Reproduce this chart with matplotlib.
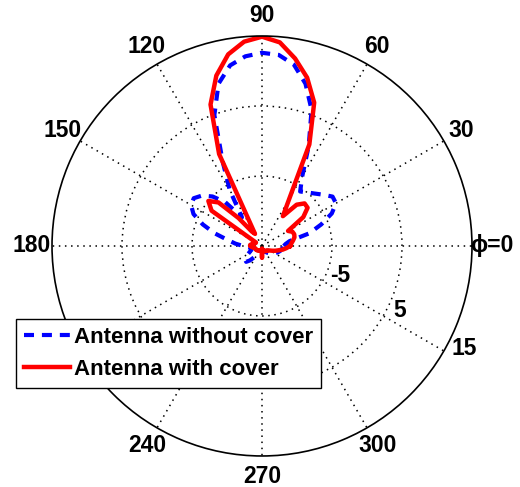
import numpy as np
import matplotlib
matplotlib.use('Agg')  # sem display
import matplotlib.pyplot as plt

plt.rcParams['font.family'] = ['Liberation Sans', 'DejaVu Sans']
plt.rcParams['font.weight'] = 'bold'

# Ângulos (graus) do diagrama de irradiação
angulos = np.arange(0, 360, 5)

# Ganho (dB) - antena sem radome
ganho_sem_cover = [
    -11.9, -11.6, -11.0, -8.0, -6.0, -4.0, -2.8, -2.7, -3.6, -4.4, -5.0, -5.5,
    -3.5, 0.8, 5.7, 9.0, 11.3, 12.4, 12.6, 12.2, 11.2, 9.0, 4.9, -1.7,
    -5.8, -10.0, -6.8, -5.0, -3.8, -3.1, -3.3, -4.2, -6.0, -8.0, -10.0, -11.2,
    -12.3, -13.0, -13.4, -13.5, -13.4, -13.1, -12.7, -12.2, -11.9, -11.8, -12.3, -13.0,
    -13.6, -14.0, -14.2, -14.3, -14.3, -14.3, -14.3, -14.3, -14.3, -14.2, -14.2, -14.1,
    -14.0, -13.9, -13.7, -13.5, -13.3, -13.1, -12.9, -12.7, -12.5, -12.3, -12.2, -12.0,
]

# Ganho (dB) - antena com radome
ganho_com_cover = [
    -11.0, -10.8, -10.5, -10.2, -10.1, -10.2, -10.7, -7.8, -6.5, -6.4, -7.3, -9.8,
    -7.2, 1.0, 6.8, 9.9, 12.2, 14.2, 14.9, 14.3, 12.8, 10.2, 6.5, -0.5,
    -13.0, -12.5, -9.8, -6.2, -5.0, -6.2, -14.0, -14.0, -13.9, -13.8, -13.5, -13.3,
    -13.3, -13.5, -13.7, -13.9, -14.0, -14.0, -14.0, -14.0, -14.1, -14.1, -14.2, -14.2,
    -14.2, -14.3, -14.3, -14.3, -14.4, -14.6, -13.3, -14.6, -14.4, -14.3, -14.3, -14.2,
    -14.2, -14.1, -14.1, -14.0, -14.0, -13.9, -13.7, -13.4, -13.0, -12.6, -12.0, -11.5,
]

# Rótulos da escala angular e radial
theta_ticks = [0, 30, 60, 90, 120, 150, 180, 240, 270, 300]
theta_rotulos = ['\u03d5=0', '30', '60', '90', '120', '150', '180', '240', '270', '300']
r_ticks = [-5, 5, 15]
r_rotulos = ['-5', '5', '15']


def fechar(vals):
    # repete o primeiro ponto para fechar a curva em 360°
    return np.append(vals, vals[0])


fig = plt.figure(figsize=(5.2, 4.87), dpi=100)
ax = fig.add_axes([0.1, 0.0637, 0.8077, 0.8624], projection='polar')

th = np.deg2rad(fechar(angulos))
l1, = ax.plot(th, fechar(ganho_sem_cover), color='blue', lw=3,
              linestyle=(0, (2.4, 1.9)), label='Antenna without cover')
l2, = ax.plot(th, fechar(ganho_com_cover), color='red', lw=3.2,
              label='Antenna with cover')

# Grade pontilhada estilo MATLAB
ax.set_ylim(-15, 15)
ax.set_thetagrids(np.arange(0, 360, 30), labels=[])
ax.set_rgrids(r_ticks[:-1], labels=[])
ax.grid(True, color='black', linestyle=(0, (1, 3)), linewidth=1.1)
ax.tick_params(length=0)
ax.spines['polar'].set_linewidth(1.2)

for ang, txt in zip(theta_ticks, theta_rotulos):
    ax.text(np.deg2rad(ang), 17.9, txt, ha='center', va='center',
            fontsize=16.5, clip_on=False)

# Rótulos radiais posicionados no quadrante inferior direito
r_ang = [-21, -25, -27]
r_pos = [-3.06, 6.77, 17.34]
for a, r, txt in zip(r_ang, r_pos, r_rotulos):
    ax.text(np.deg2rad(a), r, txt, ha='center', va='center',
            fontsize=16.5, clip_on=False)

leg = fig.legend(handles=[l1, l2], loc='upper left',
                 bbox_to_anchor=(16 / 520, 1 - 319 / 487),
                 prop={'size': 16, 'weight': 'bold'},
                 handlelength=2.1, handletextpad=0.15, borderpad=0.35,
                 labelspacing=0.5, borderaxespad=0, fancybox=False,
                 framealpha=1, edgecolor='black')
leg.get_frame().set_linewidth(1.0)

fig.savefig('out.png', dpi=100)
plt.close(fig)
